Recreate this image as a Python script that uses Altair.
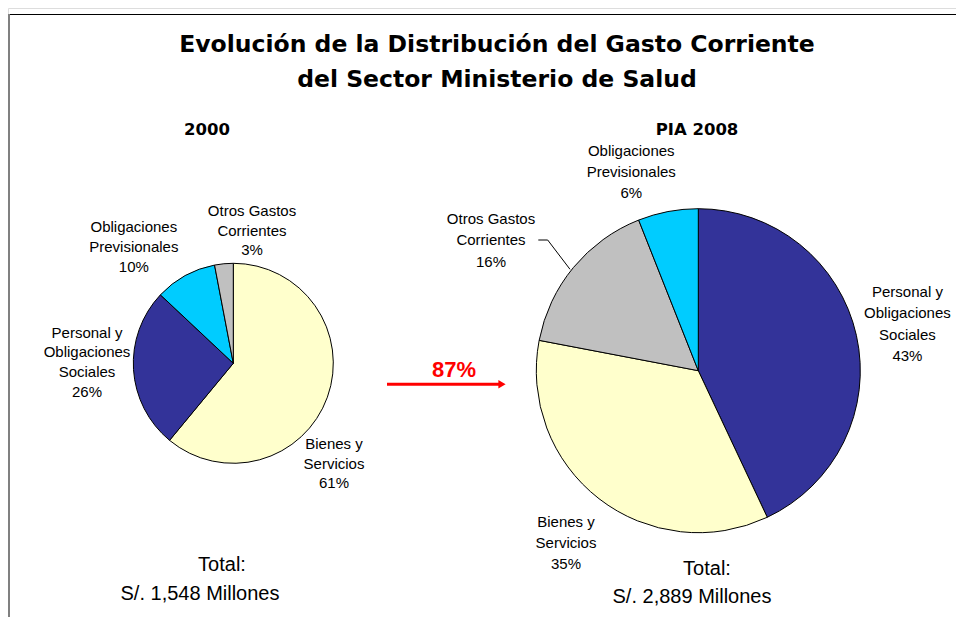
import altair as alt
import pandas as pd

# ---------------- data ----------------
categorias = ["Personal y Obligaciones Sociales", "Bienes y Servicios",
              "Otros Gastos Corrientes", "Obligaciones Previsionales"]
etiquetas = ["Personal y\nObligaciones\nSociales", "Bienes y\nServicios",
             "Otros Gastos\nCorrientes", "Obligaciones\nPrevisionales"]
colores = ["#333399", "#FFFFCC", "#C0C0C0", "#00CCFF"]

cat_2000 = ["Bienes y Servicios", "Personal y Obligaciones Sociales",
            "Obligaciones Previsionales", "Otros Gastos Corrientes"]
val_2000 = [61, 26, 10, 3]

cat_2008 = ["Personal y Obligaciones Sociales", "Bienes y Servicios",
            "Otros Gastos Corrientes", "Obligaciones Previsionales"]
val_2008 = [43, 35, 16, 6]

titulo = ["Evolución de la Distribución del Gasto Corriente",
          "del Sector Ministerio de Salud"]
subtitulos = ["2000", "PIA 2008"]
total_txt = "Total:"
totales = ["S/. 1,548 Millones", "S/. 2,889 Millones"]
crecimiento = "87%"

label_of = dict(zip(categorias, etiquetas))


def build(cats, vals):
    df = pd.DataFrame({"categoria": cats, "valor": vals})
    df["orden"] = range(len(df))
    df["mid"] = df["valor"].cumsum() - df["valor"] / 2
    df["etiqueta"] = [label_of[c] + "\n" + f"{v}%" for c, v in zip(cats, vals)]
    return df


df1 = build(cat_2000, val_2000)
df2 = build(cat_2008, val_2008)

THETA_SCALE = alt.Scale(domain=[0, 100])
COLOR = alt.Color("categoria:N", scale=alt.Scale(domain=categorias, range=colores), legend=None)

LABEL_FONT = "Liberation Sans"


def pie(df, cx, cy, r):
    return alt.Chart(df).mark_arc(stroke="black", strokeWidth=1).encode(
        theta=alt.Theta("valor:Q", stack=True, scale=THETA_SCALE),
        color=COLOR,
        order=alt.Order("orden:Q", sort="ascending"),
        x=alt.value(cx), y=alt.value(cy), radius=alt.value(r),
    )


def label(df, cat, cx, cy, rad, dx, dy, lh):
    n_lines = df.loc[df["categoria"] == cat, "etiqueta"].iloc[0].count("\n") + 1
    dy_block = dy - (n_lines - 1) / 2 * lh  # vertically centre the whole block
    return alt.Chart(df).transform_filter(alt.datum.categoria == cat).mark_text(
        font=LABEL_FONT, fontSize=15, color="black", lineBreak="\n",
        lineHeight=lh, align="center", baseline="middle", dx=dx, dy=dy_block,
    ).encode(
        theta=alt.Theta("mid:Q", stack=False, scale=THETA_SCALE),
        text="etiqueta:N",
        x=alt.value(cx), y=alt.value(cy), radius=alt.value(rad),
    )


def txt(s, x, y, size, weight="normal", color="black", font=LABEL_FONT):
    return alt.Chart(pd.DataFrame({"t": [s]})).mark_text(
        font=font, fontSize=size, fontWeight=weight, color=color,
        align="center", baseline="middle",
    ).encode(text="t:N", x=alt.value(x), y=alt.value(y))


C1 = (225.3, 355.3, 100)
C2 = (690.3, 362.7, 162)

layers = []
# frame
layers.append(alt.Chart(pd.DataFrame({"a": [0]})).mark_rule(color="black", strokeWidth=1).encode(
    x=alt.value(0), x2=alt.value(960), y=alt.value(6.5)))
layers.append(alt.Chart(pd.DataFrame({"a": [0]})).mark_rule(color="#808080", strokeWidth=2).encode(
    x=alt.value(1), y=alt.value(6), y2=alt.value(620)))

# pies
layers.append(pie(df1, *C1))
layers.append(pie(df2, *C2))

# labels 2000
lab1 = {
    "Bienes y Servicios": (140, -31, 53),
    "Personal y Obligaciones Sociales": (146, -0.6, -10.3),
    "Obligaciones Previsionales": (150, -27.2, 15.1),
    "Otros Gastos Corrientes": (133, 31.2, -0.2),
}
for cat, (rad, dx, dy) in lab1.items():
    layers.append(label(df1, cat, C1[0], C1[1], rad, dx, dy, 19.7))

lab2 = {
    "Personal y Obligaciones Sociales": (214, 0.3, 0),
    "Bienes y Servicios": (217, 0.7, 0.9),
    "Otros Gastos Corrientes": (245, -18.5, 25.8),
    "Obligaciones Previsionales": (210, -27.7, 7.5),
}
for cat, (rad, dx, dy) in lab2.items():
    layers.append(label(df2, cat, C2[0], C2[1], rad, dx, dy, 21.3))

# leader line for "Otros Gastos Corrientes" 2008
layers.append(alt.Chart(pd.DataFrame({"a": [0]})).mark_rule(color="black", strokeWidth=1).encode(
    x=alt.value(530.3), x2=alt.value(539.7), y=alt.value(232), y2=alt.value(232)))
layers.append(alt.Chart(pd.DataFrame({"a": [0]})).mark_rule(color="black", strokeWidth=1).encode(
    x=alt.value(539.7), x2=alt.value(562), y=alt.value(232), y2=alt.value(261.3)))

# titles
layers.append(txt(titulo[0], 489, 37, 23.5, "bold", font="DejaVu Sans"))
layers.append(txt(titulo[1], 489, 71.5, 23.5, "bold", font="DejaVu Sans"))
layers.append(txt(subtitulos[0], 199, 122, 16.5, "bold", font="DejaVu Sans"))
layers.append(txt(subtitulos[1], 689, 122, 16.5, "bold", font="DejaVu Sans"))

# growth arrow
layers.append(txt(crecimiento, 446, 362, 22, "bold", color="#FF0000"))
layers.append(alt.Chart(pd.DataFrame({"a": [0]})).mark_rule(color="#FF0000", strokeWidth=3).encode(
    x=alt.value(379), x2=alt.value(492), y=alt.value(376.3)))
layers.append(alt.Chart(pd.DataFrame({"a": [0]})).mark_point(
    shape="triangle-right", filled=True, color="#FF0000", opacity=1, size=70).encode(
    x=alt.value(494), y=alt.value(376.3)))

# totals
layers.append(txt(total_txt, 214, 557, 20))
layers.append(txt(totales[0], 192, 586, 20))
layers.append(txt(total_txt, 699, 561, 20))
layers.append(txt(totales[1], 684, 589, 20))

chart = alt.layer(*layers).properties(
    width=948, height=609, autosize=alt.AutoSizeParams(type="none"), padding=0,
).configure_view(stroke=None).configure(background="white")

chart.save("out.html", embed_options={"renderer": "svg", "actions": False})
